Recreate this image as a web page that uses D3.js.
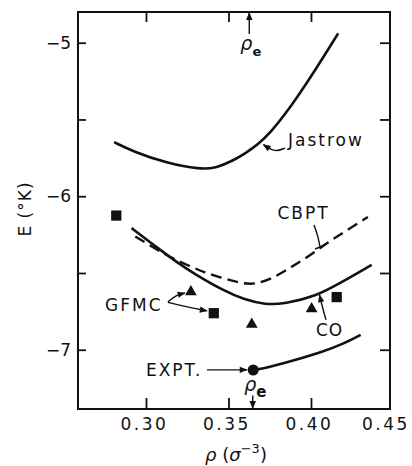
<!DOCTYPE html>
<html>
<head>
<meta charset="utf-8">
<script src="https://cdn.jsdelivr.net/npm/d3@7"></script>
<style>
  body { margin: 0; background: #fff; }
  svg { display: block; font-family: "DejaVu Sans", sans-serif; }
</style>
</head>
<body>
<svg id="chart"></svg>
<script>
// curves, [rho, E]
const jastrow = [[0.2807,-5.648],[0.2923,-5.709],[0.3126,-5.785],[0.3328,-5.826],[0.3430,-5.814],[0.3520,-5.772],
  [0.3600,-5.722],[0.3680,-5.662],[0.3760,-5.578],[0.3840,-5.470],[0.3913,-5.360],[0.4014,-5.199],[0.4165,-4.939]];
const cbpt = [[0.2935,-6.262],[0.3133,-6.392],[0.3255,-6.450],[0.3352,-6.496],[0.3455,-6.530],[0.3560,-6.562],
  [0.3655,-6.578],[0.3770,-6.534],[0.3876,-6.464],[0.3982,-6.395],[0.4103,-6.300],[0.4212,-6.226],[0.4345,-6.135]];
const co = [[0.2913,-6.208],[0.3085,-6.349],[0.3206,-6.444],[0.3287,-6.501],[0.3467,-6.614],[0.3600,-6.675],
  [0.3721,-6.706],[0.3842,-6.701],[0.4024,-6.654],[0.4176,-6.566],[0.4368,-6.447]];
const expt = [[0.3650,-7.131],[0.3720,-7.121],[0.3873,-7.077],[0.4075,-7.012],[0.4196,-6.962],[0.4301,-6.903]];

// GFMC points
const gfmcSquares = [[0.2820,-6.126],[0.3411,-6.762],[0.4156,-6.657]];
const gfmcTriangles = [[0.3272,-6.623],[0.3641,-6.835],[0.4004,-6.734]];
const exptPoint = [[0.3650,-7.132]];

const xTicks = [0.30, 0.35, 0.40, 0.45];
const yTicks = [-5, -5.5, -6, -6.5, -7];

const margin = { top: 12, right: 22, bottom: 57, left: 78 };
const width = 412 - margin.left - margin.right;
const height = 466 - margin.top - margin.bottom;

const svg = d3.select("#chart")
  .attr("width", width + margin.left + margin.right)
  .attr("height", height + margin.top + margin.bottom);

const defs = svg.append("defs");
defs.append("marker")
  .attr("id", "arrow")
  .attr("viewBox", "0 0 10 10")
  .attr("refX", 9).attr("refY", 5)
  .attr("markerUnits", "userSpaceOnUse")
  .attr("markerWidth", 9).attr("markerHeight", 8)
  .attr("orient", "auto")
  .append("path").attr("d", "M0,1L10,5L0,9z").attr("fill", "#111");

const g = svg.append("g").attr("transform", `translate(${margin.left},${margin.top})`);

const x = d3.scaleLinear().domain([0.2588, 0.4479]).range([0, width]);
const y = d3.scaleLinear().domain([-7.386, -4.800]).range([height, 0]);

// frame
g.append("rect")
  .attr("width", width).attr("height", height)
  .attr("fill", "none").attr("stroke", "#111").attr("stroke-width", 2);

const styleAxis = sel => {
  sel.select(".domain").remove();
  sel.selectAll(".tick line").attr("stroke", "#111").attr("stroke-width", 1.8);
  sel.selectAll(".tick text").attr("fill", "#111").attr("font-size", 17)
    .attr("font-family", "DejaVu Sans, sans-serif");
};

// bottom axis
const xAxis = g.append("g").attr("transform", `translate(0,${height})`)
  .call(d3.axisBottom(x).tickValues(xTicks).tickSizeInner(-11).tickSizeOuter(0).tickPadding(9)
    .tickFormat(d3.format(".2f")))
  .call(styleAxis);
xAxis.selectAll(".tick text").attr("letter-spacing", 2.5).attr("dx", -2);
xAxis.selectAll(".tick").filter(d => d > 0.445).select("text").attr("dx", -8);
xAxis.selectAll(".tick").filter(d => d > 0.445).select("line").remove();

// top axis
g.append("g")
  .call(d3.axisTop(x).tickValues(xTicks.slice(0, 3)).tickSizeInner(-10).tickSizeOuter(0).tickFormat(""))
  .call(styleAxis);

// left axis
g.append("g")
  .call(d3.axisLeft(y).tickValues(yTicks).tickSizeInner(-8).tickSizeOuter(0).tickPadding(7)
    .tickFormat(d => Number.isInteger(d) ? d3.format("d")(d) : ""))
  .call(styleAxis);

// right axis
g.append("g").attr("transform", `translate(${width},0)`)
  .call(d3.axisRight(y).tickValues(yTicks).tickSizeInner(-10).tickSizeOuter(0).tickFormat(""))
  .call(styleAxis);

// curves
const line = d3.line()
  .x(d => x(d[0]))
  .y(d => y(d[1]))
  .curve(d3.curveBasis);

[jastrow, co, expt].forEach(data => {
  g.append("path").datum(data)
    .attr("d", line)
    .attr("fill", "none").attr("stroke", "#111").attr("stroke-width", 2.6);
});
g.append("path").datum(cbpt)
  .attr("d", line)
  .attr("fill", "none").attr("stroke", "#111").attr("stroke-width", 2.4)
  .attr("stroke-dasharray", "11,6");

// markers
g.selectAll("path.sq").data(gfmcSquares).join("path")
  .attr("class", "sq")
  .attr("transform", d => `translate(${x(d[0])},${y(d[1])})`)
  .attr("d", d3.symbol(d3.symbolSquare, 105))
  .attr("fill", "#111");
g.selectAll("path.tri").data(gfmcTriangles).join("path")
  .attr("class", "tri")
  .attr("transform", d => `translate(${x(d[0])},${y(d[1])})`)
  .attr("d", d3.symbol(d3.symbolTriangle, 60))
  .attr("fill", "#111");
g.selectAll("circle.pt").data(exptPoint).join("circle")
  .attr("class", "pt")
  .attr("cx", d => x(d[0])).attr("cy", d => y(d[1]))
  .attr("r", 5.5).attr("fill", "#111");

// annotations (positions in data units)
const label = (text, rho, e, ls) => g.append("text")
  .attr("x", x(rho)).attr("y", y(e))
  .attr("font-size", 17).attr("letter-spacing", ls).attr("fill", "#111")
  .text(text);

label("Jastrow", 0.3861, -5.676, 2);
label("CBPT", 0.3797, -6.148, 2);
label("GFMC", 0.2752, -6.749, 2);
label("CO", 0.4030, -6.913, 1);
label("EXPT.", 0.3000, -7.174, 2);

const pointer = (pts, arrow) => {
  const p = g.append("path")
    .attr("d", d3.line().x(d => x(d[0])).y(d => y(d[1])).curve(d3.curveBasis)(pts))
    .attr("fill", "none").attr("stroke", "#111").attr("stroke-width", 1.4);
  if (arrow) p.attr("marker-end", "url(#arrow)");
  return p;
};

pointer([[0.3842,-5.686],[0.3782,-5.715],[0.3712,-5.664]], true);
pointer([[0.3133,-6.688],[0.3182,-6.645],[0.3236,-6.630]], true);
pointer([[0.3133,-6.691],[0.3250,-6.722],[0.3370,-6.747]], true);
pointer([[0.4091,-6.805],[0.4070,-6.725],[0.4052,-6.643]], true);
pointer([[0.3370,-7.131],[0.3490,-7.131],[0.3612,-7.131]], true);
pointer([[0.4018,-6.187],[0.4042,-6.258],[0.4055,-6.330]], false);
// flat end of the CBPT pointer
g.append("line")
  .attr("x1", x(0.4055) - 5).attr("y1", y(-6.330) + 2)
  .attr("x2", x(0.4055) + 5).attr("y2", y(-6.330) - 2)
  .attr("stroke", "#111").attr("stroke-width", 1.6);

// rho_e markers, top and bottom
const rhoE = (rho, e, sub) => {
  const t = g.append("text").attr("x", x(rho)).attr("y", y(e)).attr("fill", "#111");
  t.append("tspan").attr("font-size", 19).attr("font-style", "italic").text("ρ");
  t.append("tspan").attr("font-size", sub).attr("font-weight", "bold").attr("dy", 6).text("e");
};
rhoE(0.3572, -5.045, 13);
rhoE(0.3596, -7.272, 15);
pointer([[0.3626,-4.943],[0.3626,-4.875],[0.3626,-4.806]], true);
pointer([[0.3647,-7.298],[0.3647,-7.338],[0.3647,-7.380]], true);

// axis titles
svg.append("text")
  .attr("transform", `translate(31,209) rotate(-90)`)
  .attr("text-anchor", "middle").attr("font-size", 17).attr("letter-spacing", 1).attr("fill", "#111")
  .text("E (°K)");

const xt = svg.append("text")
  .attr("x", 236).attr("y", 461)
  .attr("text-anchor", "middle").attr("font-size", 18).attr("fill", "#111");
xt.append("tspan").attr("font-style", "italic").text("ρ");
xt.append("tspan").text(" (");
xt.append("tspan").attr("font-style", "italic").text("σ");
xt.append("tspan").attr("font-size", 13).attr("dy", -8).text("−3");
xt.append("tspan").attr("dy", 8).text(")");
</script>
</body>
</html>
